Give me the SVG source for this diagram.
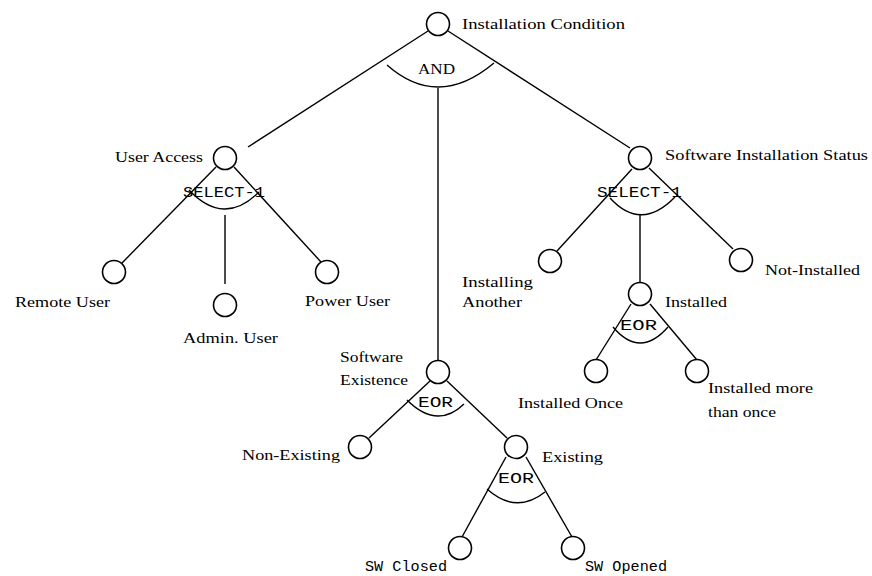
<svg xmlns="http://www.w3.org/2000/svg" width="872" height="576" viewBox="0 0 872 576">
  <style>
    .node { fill: #fff; stroke: #000; stroke-width: 1.6; }
    .edge { fill: none; stroke: #000; stroke-width: 1.4; }
    .op-arc { fill: none; stroke: #000; stroke-width: 1.4; }
    .lbl { font-family: "Liberation Serif", "Times New Roman", serif; font-size: 15px; fill: #000; }
    .mono { font-family: "Liberation Mono", "Courier New", monospace; font-size: 15px; fill: #000; }
    .mono-sm { font-family: "Liberation Mono", "Courier New", monospace; font-size: 14px; fill: #000; }
  </style>
  <rect width="872" height="576" fill="#fff"/>

  <!-- connectors between parent and child nodes -->
  <g id="connectors">
    <line class="edge" x1="428" y1="31" x2="248" y2="147"/>
    <line class="edge" x1="448" y1="31" x2="630" y2="148"/>
    <line class="edge" x1="438" y1="88" x2="438" y2="361"/>

    <line class="edge" x1="216" y1="167" x2="122" y2="263"/>
    <line class="edge" x1="225" y1="215" x2="225" y2="284"/>
    <line class="edge" x1="234" y1="167" x2="321" y2="262"/>

    <line class="edge" x1="632" y1="169" x2="557" y2="251"/>
    <line class="edge" x1="640" y1="215" x2="640" y2="282"/>
    <line class="edge" x1="649" y1="168" x2="733" y2="249"/>

    <line class="edge" x1="631" y1="304" x2="596" y2="360"/>
    <line class="edge" x1="650" y1="304" x2="697" y2="360"/>

    <line class="edge" x1="430" y1="381" x2="369" y2="438"/>
    <line class="edge" x1="447" y1="381" x2="507" y2="438"/>

    <line class="edge" x1="506" y1="457" x2="462" y2="537"/>
    <line class="edge" x1="526" y1="457" x2="572" y2="537"/>
  </g>

  <g id="installation-condition">
    <circle class="node" cx="438" cy="24" r="11.5"/>
    <text class="lbl" x="462" y="29" textLength="163" lengthAdjust="spacingAndGlyphs">Installation Condition</text>
    <path class="op-arc" d="M387,65 Q438,110 494,63"/>
    <text class="lbl" x="418" y="74" textLength="37" lengthAdjust="spacingAndGlyphs">AND</text>
  </g>

  <g id="user-access">
    <circle class="node" cx="225" cy="158" r="11.5"/>
    <text class="lbl" x="115" y="162" textLength="88" lengthAdjust="spacingAndGlyphs">User Access</text>
    <path class="op-arc" d="M189,190 Q224,227 259,192"/>
    <text class="mono" x="183" y="197" textLength="82" lengthAdjust="spacingAndGlyphs">SELECT-1</text>
  </g>

  <g id="remote-user">
    <circle class="node" cx="114" cy="272" r="11.5"/>
    <text class="lbl" x="15" y="307" textLength="95" lengthAdjust="spacingAndGlyphs">Remote User</text>
  </g>

  <g id="admin-user">
    <circle class="node" cx="225" cy="305" r="11.5"/>
    <text class="lbl" x="183" y="343" textLength="95" lengthAdjust="spacingAndGlyphs">Admin. User</text>
  </g>

  <g id="power-user">
    <circle class="node" cx="327" cy="272" r="11.5"/>
    <text class="lbl" x="305" y="306" textLength="85" lengthAdjust="spacingAndGlyphs">Power User</text>
  </g>

  <g id="software-installation-status">
    <circle class="node" cx="640" cy="158" r="11.5"/>
    <text class="lbl" x="665" y="160" textLength="203" lengthAdjust="spacingAndGlyphs">Software Installation Status</text>
    <path class="op-arc" d="M610,198 Q641,232 675,197"/>
    <text class="mono" x="597" y="197" textLength="85" lengthAdjust="spacingAndGlyphs">SELECT-1</text>
  </g>

  <g id="installing-another">
    <circle class="node" cx="550" cy="261" r="11.5"/>
    <text class="lbl" x="462" y="287" textLength="71" lengthAdjust="spacingAndGlyphs">Installing</text>
    <text class="lbl" x="462" y="307" textLength="60" lengthAdjust="spacingAndGlyphs">Another</text>
  </g>

  <g id="not-installed">
    <circle class="node" cx="741" cy="260" r="11.5"/>
    <text class="lbl" x="765" y="275" textLength="95" lengthAdjust="spacingAndGlyphs">Not-Installed</text>
  </g>

  <g id="installed">
    <circle class="node" cx="640" cy="294" r="11.5"/>
    <text class="lbl" x="665" y="307" textLength="62" lengthAdjust="spacingAndGlyphs">Installed</text>
    <path class="op-arc" d="M613,327 Q640,359 668,327"/>
    <text class="mono" x="620" y="330" textLength="37" lengthAdjust="spacingAndGlyphs">EOR</text>
  </g>

  <g id="installed-once">
    <circle class="node" cx="596" cy="371" r="11.5"/>
    <text class="lbl" x="518" y="408" textLength="105" lengthAdjust="spacingAndGlyphs">Installed Once</text>
  </g>

  <g id="installed-more-than-once">
    <circle class="node" cx="697" cy="371" r="11.5"/>
    <text class="lbl" x="708" y="393" textLength="105" lengthAdjust="spacingAndGlyphs">Installed more</text>
    <text class="lbl" x="708" y="417" textLength="68" lengthAdjust="spacingAndGlyphs">than once</text>
  </g>

  <g id="software-existence">
    <circle class="node" cx="438" cy="372" r="11.5"/>
    <text class="lbl" x="340" y="362" textLength="63" lengthAdjust="spacingAndGlyphs">Software</text>
    <text class="lbl" x="340" y="385" textLength="68" lengthAdjust="spacingAndGlyphs">Existence</text>
    <path class="op-arc" d="M407,400 Q437,430 464,404"/>
    <text class="mono" x="418" y="407" textLength="35" lengthAdjust="spacingAndGlyphs">EOR</text>
  </g>

  <g id="non-existing">
    <circle class="node" cx="360" cy="447" r="11.5"/>
    <text class="lbl" x="242" y="460" textLength="98" lengthAdjust="spacingAndGlyphs">Non-Existing</text>
  </g>

  <g id="existing">
    <circle class="node" cx="516" cy="447" r="11.5"/>
    <text class="lbl" x="542" y="462" textLength="61" lengthAdjust="spacingAndGlyphs">Existing</text>
    <path class="op-arc" d="M487,489 Q516,515 545,492"/>
    <text class="mono" x="498" y="483" textLength="36" lengthAdjust="spacingAndGlyphs">EOR</text>
  </g>

  <g id="sw-closed">
    <circle class="node" cx="460" cy="548" r="11.5"/>
    <text class="mono-sm" x="365" y="571" textLength="82" lengthAdjust="spacingAndGlyphs">SW Closed</text>
  </g>

  <g id="sw-opened">
    <circle class="node" cx="573" cy="548" r="11.5"/>
    <text class="mono-sm" x="585" y="571" textLength="82" lengthAdjust="spacingAndGlyphs">SW Opened</text>
  </g>
</svg>
